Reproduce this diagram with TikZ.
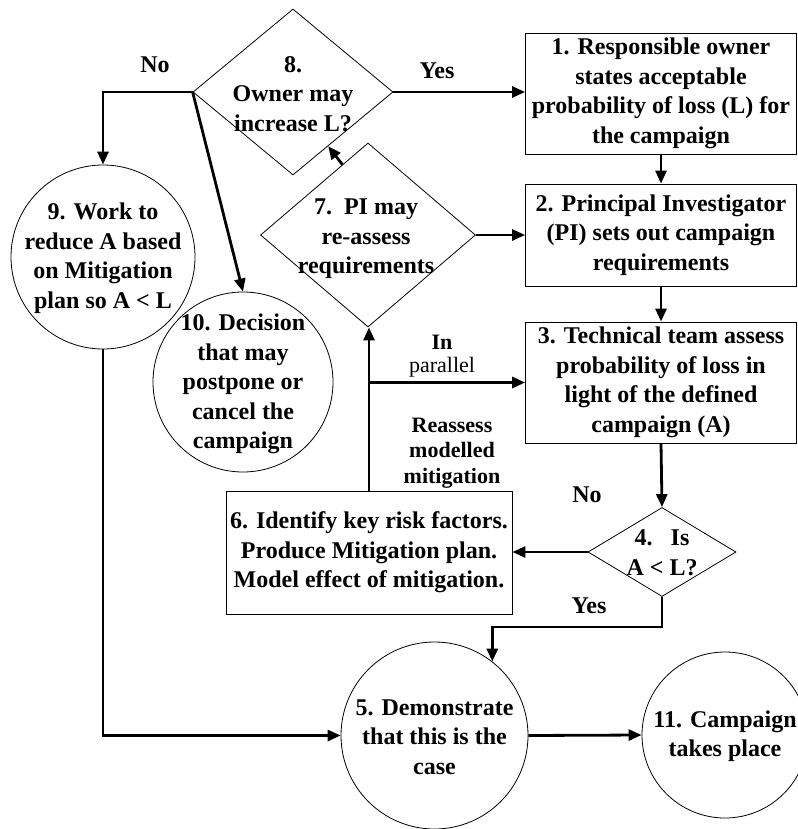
\documentclass[tikz,border=0pt]{standalone}
\usepackage{fontspec}
\setmainfont{Liberation Serif}
\usetikzlibrary{shapes.geometric, arrows.meta}
\newcommand\flowfont{\bfseries\fontsize{24}{29.5}\selectfont}
\newcommand\tagfont{\bfseries\fontsize{22}{25.5}\selectfont}

\begin{document}
\begin{tikzpicture}[x=1pt, y=-1pt,
  >={Triangle[length=13pt, width=11pt]},
  box/.style={draw, rectangle, line width=0.8pt, inner sep=0pt, align=center, font=\flowfont},
  decision/.style={draw, diamond, line width=0.8pt, inner sep=0pt},
  state/.style={draw, circle, line width=0.8pt, inner sep=0pt},
  txt/.style={align=center, inner sep=0pt, font=\flowfont},
  tag/.style={align=center, inner sep=0pt, font=\tagfont},
  flow/.style={->, line width=2.8pt}]

\useasboundingbox (0,0) rectangle (797,829);

% process boxes
\node[box, minimum width=271pt, minimum height=121pt] (owner) at (661,93.5)
 {1. Responsible owner\\states acceptable\\probability of loss (L) for\\the campaign};
\node[box, minimum width=271pt, minimum height=102pt] (pi) at (661,235)
 {2. Principal Investigator\\(PI) sets out campaign\\requirements};
\node[box, minimum width=271pt, minimum height=121pt] (team) at (661,382.5)
 {3. Technical team assess\\probability of loss in\\light of the defined\\campaign (A)};
\node[box, minimum width=286pt, minimum height=123pt] (mitig) at (369,552.5)
 {6. Identify key risk factors.\\Produce Mitigation plan.\\Model effect of mitigation.};

% decisions
\node[decision, minimum width=200pt, minimum height=166pt] (increase) at (293,92) {};
\node[txt] (increasetext) at (293,94) {8.\\Owner may\\increase L?};
\node[decision, minimum width=215pt, minimum height=184pt] (reassess) at (368,235) {};
\node[txt] (reassesstext) at (366,239) {7.~~PI may\\re-assess\\requirements};
\node[decision, minimum width=148pt, minimum height=89pt] (check) at (662,552) {};
\node[txt] (checktext) at (662,553) {4.~~~Is\\A < L?};

% states
\node[state, minimum size=184pt] (reduce) at (103,257) {};
\node[txt] (reducetext) at (103,258) {9. Work to\\reduce A based\\on Mitigation\\plan so A < L};
\node[state, minimum size=180pt] (postpone) at (243,382) {};
\node[txt] (postponetext) at (243,384) {10. Decision\\that may\\postpone or\\cancel the\\campaign};
\node[state, minimum size=187pt] (demo) at (434.5,735.5) {};
\node[txt] (demotext) at (434.5,737) {5. Demonstrate\\that this is the\\case};
\node[state, minimum size=166pt] (go) at (725,735) {};
\node[txt] (gotext) at (725,736) {11. Campaign\\takes place};

% connectors
\draw[flow] (increase.east) -- (increase.east -| owner.west);
\draw[flow] (owner.south) -- (pi.north);
\draw[flow] (pi.south) -- (team.north);
\draw[flow] (reassess.east) -- (reassess.east -| pi.west);
\draw[flow] (reassess.110) -- (increase.-57);
\draw[flow] (increase.west) -| (reduce.north);
\draw[flow] (increase.west) -- (postpone.north);
\draw[flow] (reduce.south) |- (demo.west);
\draw[flow] (mitig.north) -- (mitig.north |- reassess.south);
\coordinate (split) at (mitig.north |- team.west);
\draw[flow] (split) -- (team.west);
\draw[flow] (team.south) -- (check.north);
\draw[flow] (check.west) -- (check.west -| mitig.east);
\draw[flow] (check.south) -- ++(0,30) -| (demo.52);
\draw[flow] (demo.east) -- (go.west);

% branch labels
\node[txt] (nohigh) at (155,65) {No};
\node[txt] (yeshigh) at (437,71) {Yes};
\node[tag] (inpar) at (442,342) {In};
\node[tag, font=\fontsize{22}{25.5}\selectfont] (parallel) at (442,367) {parallel};
\node[tag] (remod) at (452,453) {Reassess\\modelled\\mitigation};
\node[txt] (nolow) at (587,495) {No};
\node[txt] (yeslow) at (589,606) {Yes};

\end{tikzpicture}
\end{document}
